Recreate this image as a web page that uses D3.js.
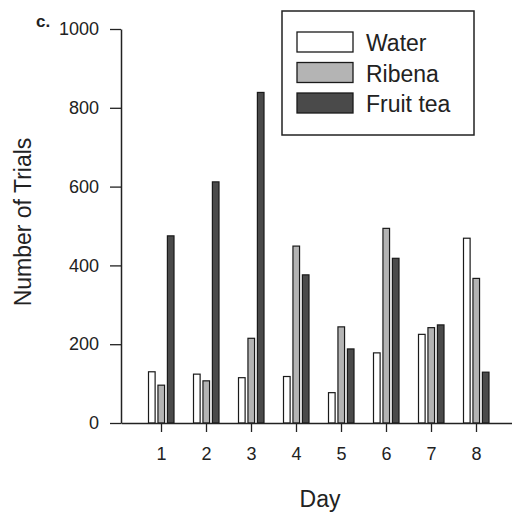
<!DOCTYPE html>
<html>
<head>
<meta charset="utf-8">
<script src="https://cdn.jsdelivr.net/npm/d3@7"></script>
<style>
  body { margin: 0; background: #fff; }
  svg { display: block; font-family: "Liberation Sans", Arial, sans-serif; }
</style>
</head>
<body>
<svg id="chart" width="512" height="518"></svg>
<script>
const days = [1, 2, 3, 4, 5, 6, 7, 8];
const seriesNames = ["Water", "Ribena", "Fruit tea"];
const water = [130, 124, 115, 118, 77, 178, 225, 469];
const ribena = [96, 107, 215, 449, 244, 494, 242, 367];
const fruitTea = [475, 612, 839, 376, 188, 418, 249, 129];
const yTicks = [0, 200, 400, 600, 800, 1000];
const colors = ["#ffffff", "#b4b4b4", "#4a4a4a"];

const seriesValues = [water, ribena, fruitTea];
const svg = d3.select("#chart");
const ink = "#222";

const x = d3.scaleLinear().domain([0.111, 8.8]).range([121, 512]);
const y = d3.scaleLinear().domain([0, 1000]).range([423, 29]);
const inner = d3.scaleBand().domain(seriesNames).range([-12.5, 13]).paddingInner(0.3);

// bars
seriesNames.forEach((name, si) => {
  svg.append("g").selectAll("rect")
    .data(days.map((d, i) => ({ day: d, v: seriesValues[si][i] })))
    .join("rect")
    .attr("x", d => x(d.day) + inner(name))
    .attr("y", d => y(d.v))
    .attr("width", inner.bandwidth())
    .attr("height", d => y(0) - y(d.v))
    .attr("fill", colors[si])
    .attr("stroke", "#1a1a1a")
    .attr("stroke-width", 1.2);
});

// y axis
const yAxis = svg.append("g")
  .attr("transform", `translate(${x.range()[0]},0)`)
  .call(d3.axisLeft(y).tickValues(yTicks).tickFormat(d3.format("d")).tickSize(11).tickPadding(11).tickSizeOuter(0));
yAxis.selectAll("text").attr("font-size", 18).attr("fill", ink).attr("font-family", "Liberation Sans, Arial, sans-serif");

// x axis
const xAxis = svg.append("g")
  .attr("transform", `translate(0,${y(0)})`)
  .call(d3.axisBottom(x).tickValues(days).tickFormat(d3.format("d")).tickSize(9).tickPadding(15).tickSizeOuter(0));
xAxis.selectAll("text").attr("font-size", 18).attr("fill", ink).attr("font-family", "Liberation Sans, Arial, sans-serif");

svg.selectAll(".domain").attr("stroke", ink).attr("stroke-width", 1.5);
svg.selectAll(".tick line").attr("stroke", ink).attr("stroke-width", 1.3);

// axis titles
svg.append("text")
  .attr("x", 320).attr("y", 507)
  .attr("text-anchor", "middle")
  .attr("font-size", 23).attr("fill", ink)
  .text("Day");

svg.append("text")
  .attr("transform", "translate(31,222) rotate(-90)")
  .attr("text-anchor", "middle")
  .attr("font-size", 23).attr("fill", ink)
  .text("Number of Trials");

// panel label
svg.append("text")
  .attr("x", 36).attr("y", 27)
  .attr("font-size", 17).attr("font-weight", "bold").attr("fill", ink)
  .text("c.");

// legend
const legend = svg.append("g");
legend.append("rect")
  .attr("x", 282).attr("y", 11).attr("width", 192).attr("height", 124)
  .attr("fill", "#fff").attr("stroke", ink).attr("stroke-width", 1.5);
seriesNames.forEach((name, i) => {
  const yy = 32 + i * 30.5;
  legend.append("rect")
    .attr("x", 297).attr("y", yy).attr("width", 56).attr("height", 20)
    .attr("fill", colors[i]).attr("stroke", "#1a1a1a").attr("stroke-width", 1.3);
  legend.append("text")
    .attr("x", 366).attr("y", yy + 19)
    .attr("font-size", 23).attr("fill", ink)
    .text(name);
});
</script>
</body>
</html>
